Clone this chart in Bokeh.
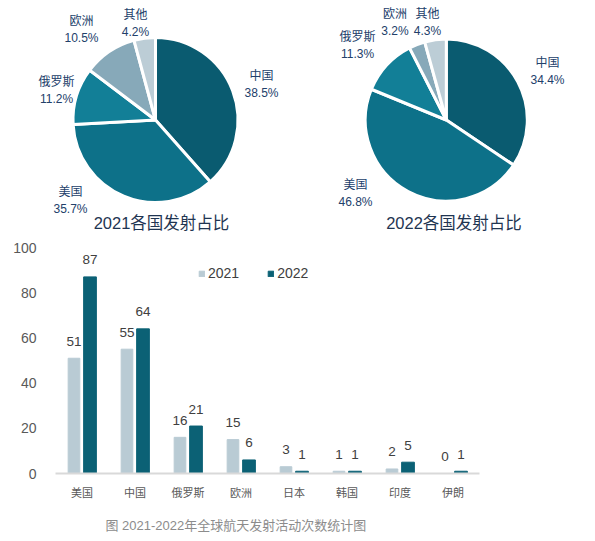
import numpy as np
from bokeh.plotting import figure
from bokeh.models import Range1d, FactorRange, ColumnDataSource, Legend, LegendItem, FixedTicker
from bokeh.layouts import column, row
from bokeh.transform import dodge
from bokeh.core.properties import value
from bokeh.embed import file_html
from bokeh.resources import INLINE

# ---------------- data ----------------
pie_names = ["中国", "美国", "俄罗斯", "欧洲", "其他"]
pie_2021 = [38.5, 35.7, 11.2, 10.5, 4.2]
pie_2022 = [34.4, 46.8, 11.3, 3.2, 4.3]
pie_title_2021 = "2021各国发射占比"
pie_title_2022 = "2022各国发射占比"

countries = ["美国", "中国", "俄罗斯", "欧洲", "日本", "韩国", "印度", "伊朗"]
launches_2021 = [51, 55, 16, 15, 3, 1, 2, 0]
launches_2022 = [87, 64, 21, 6, 1, 1, 5, 1]
series_names = ["2021", "2022"]
y_ticks = [0, 20, 40, 60, 80, 100]
caption = "图 2021-2022年全球航天发射活动次数统计图"

# ---------------- styles / layout ----------------
FONT = "Liberation Sans, Noto Sans CJK SC"
pie_colors = ["#0a5b70", "#0d7189", "#127f97", "#87a9b9", "#bccdd6"]
bar_colors = ["#b9cbd4", "#0b6175"]
label_color = "#22406a"

# label centers per slice (figure pixel coords, y up)
pie1_label_xy = [(261, 151.5), (70, 35.5), (56, 145), (81, 206), (135, 212)]
pie2_label_xy = [(250, 164), (58, 42.5), (60, 190.5), (97.5, 213), (130, 213)]


def make_pie(vals, width, cx, cy, r, label_xy, title, title_x):
    p = figure(width=width, height=235, x_range=Range1d(0, width), y_range=Range1d(0, 235),
               x_axis_type=None, y_axis_type=None, toolbar_location=None,
               output_backend="svg", min_border=0, outline_line_color=None)
    p.grid.visible = False
    fr = np.array(vals, dtype=float) / np.sum(vals)
    cum = np.concatenate([[0.0], np.cumsum(fr)])
    start = np.pi / 2 - 2 * np.pi * cum[1:]
    end = np.pi / 2 - 2 * np.pi * cum[:-1]
    src = ColumnDataSource(dict(start=start, end=end, color=pie_colors))
    p.wedge(x=cx, y=cy, radius=r, start_angle="start", end_angle="end",
            fill_color="color", line_color="white", line_width=3, source=src)
    lx = [a for a, b in label_xy]
    ly = [b for a, b in label_xy]
    lsrc = ColumnDataSource(dict(x=lx, yn=[v + 8.5 for v in ly], yp=[v - 8.5 for v in ly],
                                 name=pie_names, pct=[f"{v}%" for v in vals]))
    for ycol, tcol in (("yn", "name"), ("yp", "pct")):
        p.text(x="x", y=ycol, text=tcol, source=lsrc, text_align="center",
               text_baseline="middle", text_font=value(FONT), text_font_size="12px",
               text_color=label_color)
    p.text(x=[title_x], y=[13], text=[title], text_align="center", text_baseline="middle",
           text_font=value(FONT), text_font_size="16.5px", text_color="#1f3552")
    return p


pie1 = make_pie(pie_2021, 297, 155, 115.5, 82.5, pie1_label_xy, pie_title_2021, 161)
pie2 = make_pie(pie_2022, 298, 148.8, 115.5, 81, pie2_label_xy, pie_title_2022, 156.5)

# ---------------- bar chart ----------------
bar = figure(width=595, height=266, x_range=FactorRange(*countries), y_range=Range1d(0, 100),
             toolbar_location=None, output_backend="svg", min_border_left=55,
             min_border_right=116, min_border_top=12, min_border_bottom=28,
             outline_line_color=None)
bar.grid.visible = False
src = ColumnDataSource(dict(c=countries, a=launches_2021, b=launches_2022,
                            la=[str(v) for v in launches_2021],
                            lb=[str(v) for v in launches_2022]))
r1 = bar.vbar(x=dodge("c", -0.151, range=bar.x_range), top="a", width=0.22,
              color=bar_colors[0], source=src)
r2 = bar.vbar(x=dodge("c", 0.151, range=bar.x_range), top="b", width=0.24,
              color=bar_colors[1], source=src)
for off, col in ((-0.151, "la"), (0.151, "lb")):
    bar.text(x=dodge("c", off, range=bar.x_range), y=col[1], text=col, source=src,
             text_align="center", text_baseline="middle", y_offset=-17,
             text_font=value(FONT), text_font_size="13.5px", text_color="#404040")

bar.yaxis.ticker = FixedTicker(ticks=y_ticks)
bar.yaxis.axis_line_color = None
bar.yaxis.major_tick_line_color = None
bar.yaxis.minor_tick_line_color = None
bar.yaxis.major_label_standoff = 13
bar.yaxis.major_label_text_font = FONT
bar.yaxis.major_label_text_font_size = "14px"
bar.yaxis.major_label_text_color = "#595959"

bar.xaxis.axis_line_color = "#d9d9d9"
bar.xaxis.axis_line_width = 2
bar.xaxis.major_tick_line_color = None
bar.xaxis.minor_tick_line_color = None
bar.xaxis.major_label_standoff = 7
bar.xaxis.major_label_text_font = FONT
bar.xaxis.major_label_text_font_size = "11px"
bar.xaxis.major_label_text_color = "#595959"

legend = Legend(items=[LegendItem(label=series_names[0], renderers=[r1]),
                       LegendItem(label=series_names[1], renderers=[r2])],
                orientation="horizontal", location=(143, 192), glyph_width=7, glyph_height=7,
                label_standoff=3, spacing=28, padding=0, margin=0, border_line_color=None,
                background_fill_alpha=0, label_text_font=FONT, label_text_font_size="14px",
                label_text_color="#404040")
bar.add_layout(legend)

# ---------------- caption ----------------
cap = figure(width=595, height=40, x_range=Range1d(0, 595), y_range=Range1d(0, 40),
             x_axis_type=None, y_axis_type=None, toolbar_location=None,
             output_backend="svg", min_border=0, outline_line_color=None)
cap.grid.visible = False
cap.text(x=[253], y=[16], text=[caption], text_align="center", text_baseline="middle",
         text_font=value(FONT), text_font_size="13px", text_color="#8c8c8c")

layout = column(row(pie1, pie2), bar, cap)
open("out.html", "w").write(file_html(layout, INLINE))
